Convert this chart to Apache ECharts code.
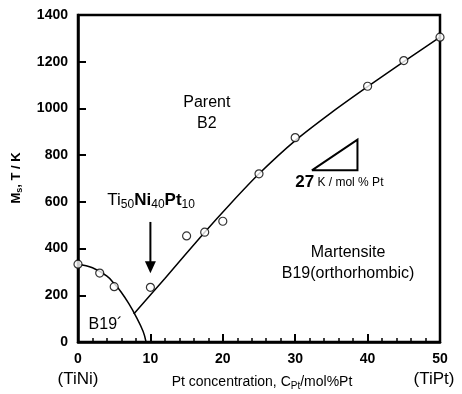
<!DOCTYPE html>
<html>
<head>
<meta charset="utf-8">
<script src="https://cdn.jsdelivr.net/npm/echarts@6/dist/echarts.min.js"></script>
<style>
  html, body { margin: 0; padding: 0; background: #fff; }
  #chart { width: 462px; height: 394px; }
</style>
</head>
<body>
<div id="chart"></div>
<script>
// measured points (Ms vs Pt content)
const ptConc = [0, 3, 5, 10, 15, 17.5, 20, 25, 30, 40, 45, 50];
const msTemp = [333, 295, 237, 234, 454, 470, 517, 720, 875, 1095, 1205, 1305];

// B19' branch (TiNi side)
const b19pX = [0, 2, 4, 5, 6, 7, 8, 9, 9.4];
const b19pY = [333, 318, 282, 250, 212, 165, 110, 45, 0];

// B19 branch
const b19X = [7.7, 12, 17.5, 21, 25, 30, 35, 40, 45, 50];
const b19Y = [120, 272, 470, 590, 720, 862, 982, 1093, 1200, 1305];

// slope triangle
const slopeX = [32.3, 38.6, 38.6, 32.3];
const slopeY = [735, 735, 866, 735];

const FONT = "'Liberation Sans', Arial, sans-serif";

const chart = echarts.init(document.getElementById('chart'));

const toPairs = (xs, ys) => xs.map((x, i) => [x, ys[i]]);

chart.setOption({
  backgroundColor: '#fff',
  animation: false,
  grid: {
    left: 78, right: 22, top: 15, bottom: 52,
    show: true, borderColor: '#000', borderWidth: 2.5
  },
  xAxis: {
    type: 'value', min: 0, max: 50, interval: 10,
    axisLine: { lineStyle: { color: '#000', width: 2.5 } },
    axisTick: { inside: true, length: 8, lineStyle: { color: '#000', width: 2 } },
    minorTick: { show: true, splitNumber: 5, length: 4, lineStyle: { color: '#000', width: 1.5 } },
    axisLabel: { color: '#000', fontSize: 14, fontWeight: 'bold', fontFamily: FONT, margin: 10 },
    splitLine: { show: false }
  },
  yAxis: {
    type: 'value', min: 0, max: 1400, interval: 200,
    axisLine: { show: true, lineStyle: { color: '#000', width: 2.5 } },
    axisTick: { show: true, inside: true, length: 8, lineStyle: { color: '#000', width: 2 } },
    axisLabel: {
      color: '#000', fontSize: 14, fontWeight: 'bold', fontFamily: FONT, margin: 10,
      formatter: v => String(v)
    },
    splitLine: { show: false }
  },
  series: [
    {
      type: 'line', data: toPairs(b19pX, b19pY), smooth: 0.4, showSymbol: false,
      lineStyle: { color: '#000', width: 1.5 }, z: 2
    },
    {
      type: 'line', data: toPairs(b19X, b19Y), smooth: 0.25, showSymbol: false,
      lineStyle: { color: '#000', width: 1.5 }, z: 2
    },
    {
      type: 'line', data: toPairs(slopeX, slopeY), showSymbol: false,
      lineStyle: { color: '#000', width: 2, join: 'miter' }, z: 2
    },
    {
      type: 'scatter', data: toPairs(ptConc, msTemp), symbol: 'circle', symbolSize: 8,
      itemStyle: { color: '#fff', borderColor: '#000', borderWidth: 1.2 }, z: 3
    }
  ]
});

// annotation anchors in data coordinates
const px = (x, y) => chart.convertToPixel({ gridIndex: 0 }, [x, y]);
const txt = (p, text, size, weight, rich, extra) => Object.assign({
  type: 'text', x: p[0], y: p[1],
  style: {
    text: text, font: (weight || 'normal') + ' ' + size + 'px ' + FONT,
    fill: '#000', align: 'center', verticalAlign: 'middle', rich: rich
  }
}, extra || {});

const arrowTop = px(10, 514), arrowTip = px(10, 294);
const sub = (s, w) => ({ fontSize: s, fontFamily: FONT, fontWeight: w || 'normal', padding: [8, 0, 0, 0] });
const main = (s, w) => ({ fontSize: s, fontFamily: FONT, fontWeight: w || 'normal' });

chart.setOption({
  graphic: [
    txt(px(17.8, 1025), 'Parent', 16),
    txt(px(17.8, 935), 'B2', 16),
    txt(px(10.1, 606), '{a|Ti}{s|50}{b|Ni}{s|40}{b|Pt}{s|10}', 16, 'normal',
      { a: main(17), b: main(17, 'bold'), s: sub(12) }),
    txt(px(37.3, 384), 'Martensite', 16),
    txt(px(37.3, 293), 'B19(orthorhombic)', 16),
    txt(px(3.8, 75), 'B19\u00b4', 16),
    {
      type: 'text', x: px(30, 683)[0], y: px(30, 683)[1],
      style: {
        text: '{b|27} {c|K / mol % Pt}', align: 'left', verticalAlign: 'middle',
        rich: { b: main(17, 'bold'), c: main(12) }, fill: '#000'
      }
    },
    {
      type: 'line',
      shape: { x1: arrowTop[0], y1: arrowTop[1], x2: arrowTip[0], y2: arrowTip[1] - 10 },
      style: { stroke: '#000', lineWidth: 2 }
    },
    {
      type: 'polygon',
      shape: { points: [[arrowTip[0] - 5.5, arrowTip[1] - 12], [arrowTip[0] + 5.5, arrowTip[1] - 12], [arrowTip[0], arrowTip[1]]] },
      style: { fill: '#000' }
    },
    // axis titles and end labels
    txt([16, 178], '{a|M}{s|s}{a|, T / K}', 13, 'bold',
      { a: main(13, 'bold'), s: sub(9, 'bold') }, { rotation: Math.PI / 2 }),
    txt([262, 382], '{a|Pt concentration, C}{s|Pt}{a|/mol%Pt}', 14, 'normal',
      { a: main(14), s: sub(10) }),
    txt(px(0, 0).map((v, i) => i ? 379 : v), '(TiNi)', 17),
    txt(px(50, 0).map((v, i) => i ? 379 : v - 6), '(TiPt)', 17)
  ]
});
</script>
</body>
</html>
